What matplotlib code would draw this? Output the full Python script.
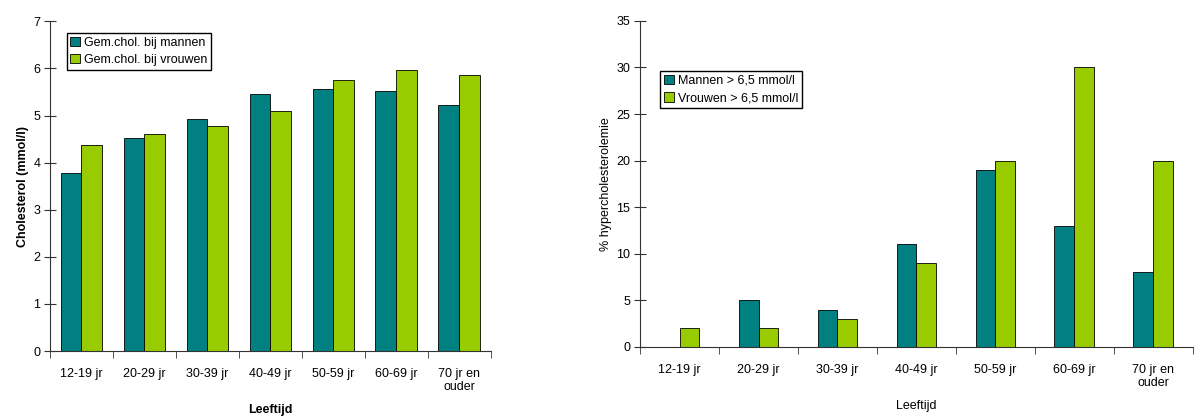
import numpy as np
import matplotlib.pyplot as plt

plt.rcParams['font.family'] = ['Liberation Sans', 'DejaVu Sans']
plt.rcParams['font.size'] = 9

groups = ["12-19 jr", "20-29 jr", "30-39 jr", "40-49 jr", "50-59 jr", "60-69 jr", "70 jr en\nouder"]

# gemiddeld cholesterol (mmol/l)
chol_men = [3.77, 4.53, 4.92, 5.45, 5.57, 5.52, 5.22]
chol_women = [4.38, 4.60, 4.78, 5.10, 5.76, 5.96, 5.86]

# % hypercholesterolemie (> 6,5 mmol/l)
hyper_men = [0, 5, 4, 11, 19, 13, 8]
hyper_women = [2, 2, 3, 9, 20, 30, 20]

teal = "#008080"
lime = "#99CC00"

fig = plt.figure(figsize=(12.01, 4.17), dpi=100)
left = fig.add_axes([0.0416, 0.158, 0.367, 0.791])
right = fig.add_axes([0.533, 0.168, 0.460, 0.782])

x = np.arange(len(groups))


def style(ax, ymax, step, bold):
    ax.set_xlim(-0.5, len(groups) - 0.5)
    ax.set_ylim(0, ymax)
    ax.set_yticks(np.arange(0, ymax + step / 2, step))
    ax.set_xticks(x)
    ax.set_xticklabels(groups, linespacing=1.1)
    ax.set_xticks(np.arange(-0.5, len(groups)), minor=True)
    ax.tick_params(axis="x", which="major", length=0, pad=12)
    ax.tick_params(axis="x", which="minor", length=5, direction="out", color="#333333")
    ax.tick_params(axis="y", length=8, direction="inout", color="#333333", pad=3)
    for s in ("top", "right"):
        ax.spines[s].set_visible(False)
    for s in ("left", "bottom"):
        ax.spines[s].set_color("#333333")
        ax.spines[s].set_linewidth(0.8)
    w = "bold" if bold else "normal"
    ax.set_xlabel("Leeftijd", fontweight=w, labelpad=8)


w1 = 0.33
left.bar(x - w1 / 2, chol_men, w1, color=teal, edgecolor="black", linewidth=0.6,
         label="Gem.chol. bij mannen")
left.bar(x + w1 / 2, chol_women, w1, color=lime, edgecolor="black", linewidth=0.6,
         label="Gem.chol. bij vrouwen")
style(left, 7, 1, True)
left.set_ylabel("Cholesterol (mmol/l)", fontweight="bold", labelpad=3)
left.legend(loc="upper left", bbox_to_anchor=(0.038, 0.965), frameon=True, fancybox=False,
            edgecolor="black", framealpha=1, handlelength=0.8, handleheight=0.8,
            handletextpad=0.3, borderpad=0.3, labelspacing=0.4, borderaxespad=0)

w2 = 0.25
right.bar(x - w2 / 2, hyper_men, w2, color=teal, edgecolor="black", linewidth=0.6,
          label="Mannen > 6,5 mmol/l")
right.bar(x + w2 / 2, hyper_women, w2, color=lime, edgecolor="black", linewidth=0.6,
          label="Vrouwen > 6,5 mmol/l")
style(right, 35, 5, False)
right.set_ylabel("% hypercholesterolemie", labelpad=3)
right.legend(loc="upper left", bbox_to_anchor=(0.036, 0.846), frameon=True, fancybox=False,
             edgecolor="black", framealpha=1, handlelength=0.8, handleheight=0.8,
             handletextpad=0.3, borderpad=0.3, labelspacing=0.4, borderaxespad=0)

fig.savefig("out.png", dpi=100)
